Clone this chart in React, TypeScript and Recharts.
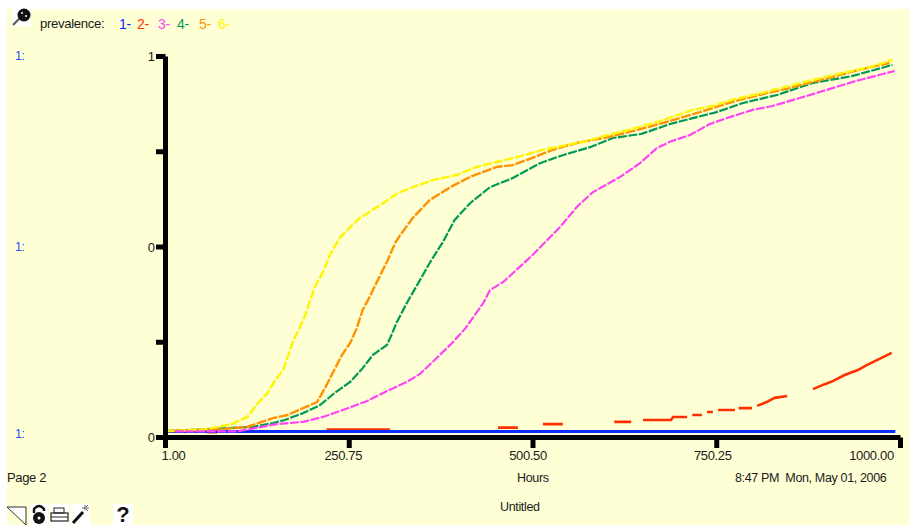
import React from 'react';
import { LineChart, Line, XAxis, YAxis } from 'recharts';

const xTicks = [1, 250.75, 500.5, 750.25, 1000];
const xTickShift = [8, -6, -5, -4, -29];
const yTicks = [0, 0.25, 0.5, 0.75, 1];
const yTickLabels = ['0', '', '0', '', '1'];

const blueHours = [1, 993];
const blueValues = [0.016, 0.016];

// null = the gaps in the plotted trace
const redHours = [57, 71, 72, 220, 306, 307, 453, 480, 481, 514, 541, 542, 611, 634, 635, 650, 688, 691, 710, 711, 717, 730, 731, 737, 745, 746, 752, 775, 776, 780, 798, 799, 805, 818, 829, 846, 847, 859, 860, 881, 897, 908, 924, 942, 954, 968, 988];
const redValues = [0.014, 0.014, null, 0.021, 0.021, null, 0.026, 0.026, null, 0.035, 0.035, null, 0.041, 0.041, null, 0.046, 0.046, 0.054, 0.054, null, 0.059, 0.059, null, 0.067, 0.067, null, 0.072, 0.072, null, 0.077, 0.077, null, 0.083, 0.093, 0.104, 0.109, null, 0.117, null, 0.127, 0.14, 0.148, 0.164, 0.177, 0.19, 0.203, 0.222];

const magentaHours = [14, 98, 152, 188, 215, 242, 275, 299, 329, 347, 388, 408, 433, 442, 460, 500, 537, 560, 582, 619, 646, 669, 689, 714, 741, 768, 799, 826, 863, 904, 940, 976, 992];
const magentaValues = [0.016, 0.016, 0.035, 0.041, 0.054, 0.072, 0.096, 0.119, 0.146, 0.167, 0.243, 0.285, 0.353, 0.387, 0.408, 0.479, 0.552, 0.605, 0.644, 0.684, 0.72, 0.76, 0.778, 0.794, 0.823, 0.841, 0.86, 0.87, 0.891, 0.915, 0.936, 0.954, 0.962];

const greenHours = [1, 120, 147, 163, 188, 211, 231, 252, 269, 283, 302, 307, 315, 329, 343, 360, 378, 394, 415, 442, 473, 510, 541, 578, 609, 648, 687, 723, 750, 786, 832, 880, 935, 989];
const greenValues = [0.017, 0.028, 0.038, 0.046, 0.064, 0.085, 0.117, 0.146, 0.182, 0.217, 0.243, 0.264, 0.301, 0.353, 0.4, 0.458, 0.513, 0.571, 0.615, 0.657, 0.681, 0.72, 0.741, 0.762, 0.786, 0.797, 0.823, 0.841, 0.854, 0.878, 0.899, 0.93, 0.949, 0.978];

const orangeHours = [1, 79, 112, 147, 167, 188, 207, 220, 229, 241, 252, 261, 269, 279, 291, 302, 313, 320, 337, 360, 388, 415, 451, 473, 500, 527, 560, 601, 632, 682, 727, 772, 808, 849, 907, 944, 985];
const orangeValues = [0.017, 0.022, 0.028, 0.051, 0.059, 0.077, 0.093, 0.138, 0.172, 0.217, 0.248, 0.287, 0.335, 0.371, 0.419, 0.461, 0.51, 0.531, 0.576, 0.623, 0.657, 0.684, 0.71, 0.715, 0.734, 0.755, 0.773, 0.788, 0.802, 0.828, 0.854, 0.881, 0.899, 0.917, 0.946, 0.965, 0.983];

const yellowHours = [1, 14, 57, 91, 112, 127, 140, 150, 161, 167, 174, 184, 191, 197, 204, 215, 225, 238, 252, 265, 293, 317, 337, 365, 397, 424, 451, 479, 514, 547, 574, 602, 636, 669, 718, 745, 771, 818, 863, 915, 958, 989];
const yellowValues = [0.017, 0.017, 0.022, 0.035, 0.054, 0.091, 0.117, 0.151, 0.177, 0.211, 0.251, 0.29, 0.322, 0.356, 0.395, 0.434, 0.482, 0.524, 0.552, 0.576, 0.61, 0.642, 0.657, 0.676, 0.689, 0.71, 0.723, 0.736, 0.755, 0.768, 0.778, 0.794, 0.81, 0.828, 0.86, 0.87, 0.886, 0.907, 0.93, 0.954, 0.972, 0.991];

const legendItems = ['1-', '2-', '3-', '4-', '5-', '6-'];
const legendX = [119, 137, 158, 177, 199, 218];
const COLORS = ['#0a2cff', '#ff3000', '#ff44f5', '#009a55', '#ff9200', '#fff500'];

const toPoints = (hours: number[], values: (number | null)[]) =>
  hours.map((h, i) => ({ h, v: values[i] }));

const FONT = '"Liberation Sans", Arial, sans-serif';

const Label = ({ x, y, color = '#1a1a1a', size = 12.5, children }: any) => (
  <div
    style={{
      position: 'absolute',
      left: x,
      top: y - 8,
      height: 16,
      lineHeight: '16px',
      fontSize: size,
      letterSpacing: -0.35,
      color,
      whiteSpace: 'pre',
    }}
  >
    {children}
  </div>
);

const XTick = ({ x, y, payload, index }: any) => (
  <text
    x={x + xTickShift[index]}
    y={y + 12}
    textAnchor="middle"
    fontFamily={FONT}
    fontSize={13}
    letterSpacing={-0.35}
    fill="#1a1a1a"
  >
    {payload.value.toFixed(2)}
  </text>
);

const Icons = () => (
  <svg width={909} height={525} style={{ position: 'absolute', left: 0, top: 0 }}>
    {/* pin icon */}
    <rect x={12} y={9} width={19} height={17} fill="#fff" />
    <line x1={13} y1={25} x2={20} y2={18} stroke="#555" strokeWidth={2} />
    <circle cx={24} cy={15} r={6.5} fill="#111" />
    <circle cx={22} cy={13} r={1} fill="#fff" />
    <circle cx={26} cy={16} r={1} fill="#fff" />
    {/* page corner */}
    <path d="M7 507 H26 V525 Z" fill="#fff" stroke="#333" strokeWidth={1} />
    {/* lock */}
    <rect x={30} y={504} width={18} height={21} fill="#fff" />
    <path d="M34 513 V509 Q39 503 44 509 V511" fill="none" stroke="#111" strokeWidth={2.4} />
    <circle cx={39} cy={518} r={6} fill="#111" />
    <circle cx={39} cy={518} r={1.5} fill="#fff" />
    {/* printer */}
    <rect x={49} y={504} width={20} height={21} fill="#fff" />
    <rect x={54} y={508} width={10} height={5} fill="none" stroke="#222" strokeWidth={1} />
    <rect x={51} y={513} width={17} height={8} fill="none" stroke="#222" strokeWidth={1.2} />
    <line x1={51} y1={517} x2={68} y2={517} stroke="#222" strokeWidth={1} />
    {/* wand */}
    <rect x={71} y={504} width={19} height={21} fill="#fff" />
    <line x1={73} y1={523} x2={83} y2={512} stroke="#111" strokeWidth={3} />
    <path d="M85 505 V510 M82 508 H89 M88 505 L86 507 M88 511 L86 509" stroke="#666" strokeWidth={1} />
    {/* help */}
    <rect x={113} y={504} width={20} height={21} fill="#fff" />
    <text x={123} y={522} textAnchor="middle" fontFamily={FONT} fontWeight={700} fontSize={22} fill="#111">?</text>
  </svg>
);

export default function App() {
  const yLabel = (v: number) => yTickLabels[yTicks.indexOf(v)];
  const series = [
    { color: COLORS[1], data: toPoints(redHours, redValues), width: 2.6, dash: undefined },
    { color: COLORS[0], data: toPoints(blueHours, blueValues), width: 3, dash: undefined },
    { color: COLORS[3], data: toPoints(greenHours, greenValues), width: 2.2, dash: '9 1.5' },
    { color: COLORS[4], data: toPoints(orangeHours, orangeValues), width: 2.4, dash: '10 1.5' },
    { color: COLORS[5], data: toPoints(yellowHours, yellowValues), width: 2.4, dash: '9 2' },
    { color: COLORS[2], data: toPoints(magentaHours, magentaValues), width: 2.2, dash: '9 1.5' },
  ];

  return (
    <div style={{ position: 'absolute', left: 0, top: 0, width: 909, height: 525, overflow: 'hidden', background: '#fff', fontFamily: FONT }}>
      <div style={{ position: 'absolute', left: 7, top: 9, width: 902, height: 516, background: '#ffffd6' }} />
      <div style={{ position: 'absolute', left: 0, top: 0 }}>
        <LineChart width={909} height={525} margin={{ top: 56.5, right: 8.5, bottom: 0, left: 0 }}>
          <XAxis
            type="number"
            dataKey="h"
            domain={[1, 1000]}
            ticks={xTicks}
            axisLine={{ stroke: '#000', strokeWidth: 5 }}
            tickLine={{ stroke: '#000', strokeWidth: 5 }}
            tickSize={10.5}
            tickMargin={0}
            height={87.5}
            interval={0}
            tick={XTick}
          />
          <YAxis
            type="number"
            domain={[0, 1]}
            ticks={yTicks}
            tickFormatter={yLabel}
            axisLine={{ stroke: '#000', strokeWidth: 5 }}
            tickLine={{ stroke: '#000', strokeWidth: 5 }}
            tickSize={9.5}
            tickMargin={1}
            width={165.5}
            interval={0}
            tick={{ fill: '#1a1a1a', fontSize: 13, fontFamily: FONT }}
          />
          {series.map((s, i) => (
            <Line
              key={i}
              data={s.data}
              dataKey="v"
              type="linear"
              stroke={s.color}
              strokeWidth={s.width}
              strokeDasharray={s.dash}
              dot={false}
              activeDot={false}
              connectNulls={false}
              isAnimationActive={false}
            />
          ))}
        </LineChart>
      </div>
      <Icons />
      <Label x={40} y={24} size={13.2}>prevalence:</Label>
      {legendItems.map((t, i) => (
        <Label key={t} x={legendX[i]} y={24} size={14} color={COLORS[i]}>{t}</Label>
      ))}
      <Label x={15} y={56} color="#2a50ff">1:</Label>
      <Label x={15} y={247} color="#2a50ff">1:</Label>
      <Label x={15} y={434} color="#2a50ff">1:</Label>
      <Label x={7} y={478} size={13}>Page 2</Label>
      <Label x={517} y={478}>Hours</Label>
      <Label x={735} y={478}>8:47 PM  Mon, May 01, 2006</Label>
      <Label x={500} y={507}>Untitled</Label>
    </div>
  );
}
